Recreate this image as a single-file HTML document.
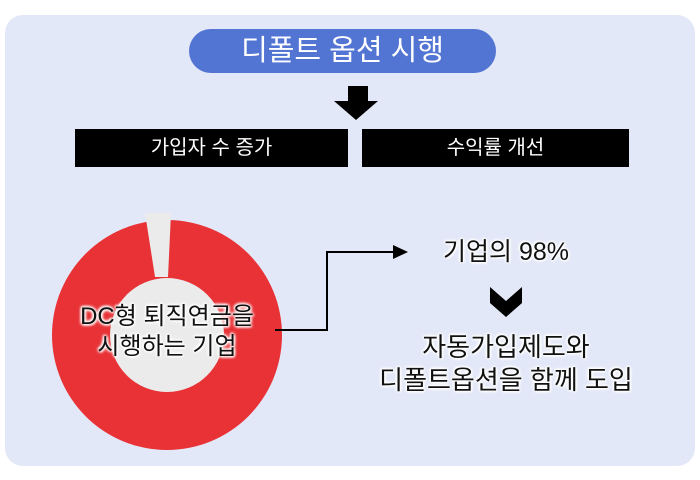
<!DOCTYPE html>
<html><head><meta charset="utf-8"><style>
body{margin:0;width:700px;height:480px;background:#fff;position:relative;overflow:hidden;font-family:"Liberation Sans","Noto Sans CJK KR",sans-serif;}
.panel{position:absolute;left:5px;top:15px;width:690px;height:451px;background:#e3e8f8;border-radius:18px;}
.pill{position:absolute;left:189px;top:29px;width:307px;height:44px;border-radius:22px;background:#5274d3;color:#fff;font-size:29px;line-height:44px;text-align:center;}
.box{position:absolute;top:129px;height:38px;background:#000;color:#fff;font-size:20px;line-height:38px;text-align:center;}
.t{position:absolute;text-align:center;color:#111;white-space:nowrap;text-shadow:0 0 3px #fff,0 0 3px #fff,0 0 4px #fff,1px 1px 2px #fff,-1px -1px 2px #fff;}
</style></head><body>
<div class="panel"></div>
<div class="pill">디폴트 옵션 시행</div>
<svg style="position:absolute;left:0;top:0" width="700" height="480">
<polygon points="348,86 368,86 368,101 378,101 356,120 334,101 348,101" fill="#000"/>
<circle cx="167" cy="335" r="115" fill="#e83236"/>
<polygon points="145,213 171,213 168,277 155,277" fill="#ebebeb"/>
<circle cx="167" cy="335" r="57" fill="#ebebeb"/>
<polyline points="275,330 327,330 327,252 395,252" fill="none" stroke="#000" stroke-width="2"/>
<polygon points="393,245 408,252 393,259" fill="#000"/>
<polygon points="490,287 506,301 522,287 522,303 506,317 490,303" fill="#000"/>
</svg>
<div class="box" style="left:75px;width:273px">가입자 수 증가</div>
<div class="box" style="left:362px;width:267px">수익률 개선</div>
<div class="t" style="left:37px;width:260px;top:302px;font-size:24px;line-height:30px">DC형 퇴직연금을<br>시행하는 기업</div>
<div class="t" style="left:406px;width:200px;top:236px;font-size:25px;line-height:32px">기업의 98%</div>
<div class="t" style="left:356px;width:300px;top:331px;font-size:26px;line-height:33px">자동가입제도와<br>디폴트옵션을 함께 도입</div>
</body></html>
